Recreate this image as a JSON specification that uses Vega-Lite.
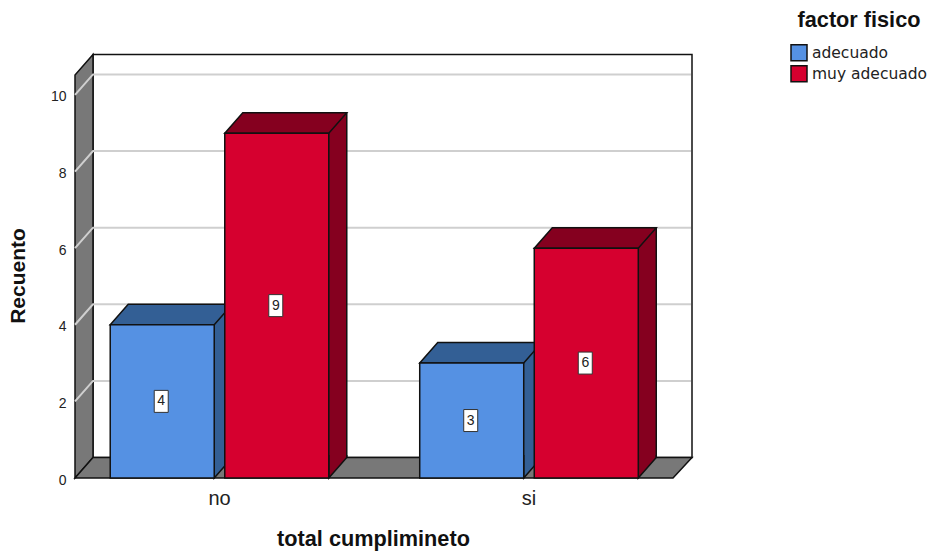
{
  "$schema": "https://vega.github.io/schema/vega-lite/v6.json",
  "width": 598,
  "height": 403,
  "autosize": {"type": "none"},
  "padding": {"left": 75, "top": 75, "right": 258, "bottom": 73},
  "background": "white",
  "config": {
    "view": {"stroke": null},
    "font": "Liberation Sans",
    "axis": {"grid": false, "domain": false, "ticks": false}
  },
  "resolve": {"scale": {"x": "independent", "y": "independent"}},
  "data": {
    "values": [
      {"total": "no", "factor": "adecuado", "recuento": 4},
      {"total": "no", "factor": "muy adecuado", "recuento": 9},
      {"total": "si", "factor": "adecuado", "recuento": 3},
      {"total": "si", "factor": "muy adecuado", "recuento": 6}
    ]
  },
  "transform": [{"calculate": "datum.recuento / 2", "as": "mitad"}],
  "layer": [
    {
      "description": "back wall",
      "data": {"values": [{"cara": "fondo"}]},
      "mark": {"type": "point", "filled": true, "opacity": 1, "size": 4, "fill": "white", "stroke": "#111", "strokeWidth": 1.5,
        "shape": "M-126.5,-20.5 L472.5,-20.5 L472.5,-423.5 L-126.5,-423.5 Z"},
      "encoding": {
        "x": {"datum": "no", "type": "nominal", "axis": null, "scale": {"domain": ["no", "si"], "range": [-10.25, 608.75], "paddingInner": 0, "paddingOuter": 0}},
        "y": {"datum": 0, "type": "quantitative", "axis": null, "scale": {"domain": [0, 10.52], "nice": false}}
      }
    },
    {
      "description": "left wall",
      "data": {"values": [{"cara": "izquierda"}]},
      "mark": {"type": "point", "filled": true, "opacity": 1, "size": 4, "fill": "#787878", "stroke": "#111", "strokeWidth": 1.5,
        "shape": "M-144.5,0 L-126.5,-20.5 L-126.5,-423.5 L-144.5,-403 Z"},
      "encoding": {
        "x": {"datum": "no", "type": "nominal", "axis": null, "scale": {"domain": ["no", "si"], "range": [-10.25, 608.75], "paddingInner": 0, "paddingOuter": 0}},
        "y": {"datum": 0, "type": "quantitative", "axis": null, "scale": {"domain": [0, 10.52], "nice": false}}
      }
    },
    {
      "description": "gridlines running over the left wall and along the back wall",
      "data": {"values": [{"marca": 2}, {"marca": 4}, {"marca": 6}, {"marca": 8}, {"marca": 10}]},
      "mark": {"type": "point", "filled": false, "opacity": 1, "size": 4, "stroke": "#cfcfcf", "strokeWidth": 2,
        "shape": "M-144.5,0 L-126.5,-20.5 L471.5,-20.5"},
      "encoding": {
        "x": {"datum": "no", "type": "nominal", "axis": null, "scale": {"domain": ["no", "si"], "range": [-10.25, 608.75], "paddingInner": 0, "paddingOuter": 0}},
        "y": {"field": "marca", "type": "quantitative", "axis": null, "scale": {"domain": [0, 10.52], "nice": false}}
      }
    },
    {
      "description": "floor",
      "data": {"values": [{"cara": "suelo"}]},
      "mark": {"type": "point", "filled": true, "opacity": 1, "size": 4, "fill": "#787878", "stroke": "#111", "strokeWidth": 1.5,
        "shape": "M-144.5,0 L-126.5,-20.5 L472.5,-20.5 L453.5,0 Z"},
      "encoding": {
        "x": {"datum": "no", "type": "nominal", "axis": null, "scale": {"domain": ["no", "si"], "range": [-10.25, 608.75], "paddingInner": 0, "paddingOuter": 0}},
        "y": {"datum": 0, "type": "quantitative", "axis": null, "scale": {"domain": [0, 10.52], "nice": false}}
      }
    },
    {
      "description": "side face of each bar, on an x range shifted by the depth",
      "mark": {"type": "bar", "yOffset": -20.5, "y2Offset": -20.5, "strokeWidth": 0},
      "encoding": {
        "x": {"field": "total", "type": "nominal", "axis": null, "scale": {"domain": ["no", "si"], "range": [7.75, 626.75], "paddingInner": 0, "paddingOuter": 0}},
        "xOffset": {"field": "factor", "type": "nominal", "scale": {"domain": ["adecuado", "muy adecuado"], "paddingInner": 0.092, "paddingOuter": 0.397}},
        "y": {"field": "recuento", "type": "quantitative", "axis": null, "scale": {"domain": [0, 10.52], "nice": false}},
        "y2": {"datum": 0},
        "fill": {"condition": {"test": "datum.factor === 'adecuado'", "value": "#335F95"}, "value": "#85001F"}
      }
    },
    {
      "description": "lower corner of the side face, overlapping the face above it",
      "mark": {"type": "point", "filled": true, "opacity": 1, "size": 4, "stroke": "#111", "strokeWidth": 1.5,
        "shape": "M52,-23 L52,0 L70,-20.5 L70,-23"},
      "encoding": {
        "x": {"field": "total", "type": "nominal", "axis": null, "scale": {"domain": ["no", "si"], "range": [-10.25, 608.75], "paddingInner": 0, "paddingOuter": 0}},
        "xOffset": {"field": "factor", "type": "nominal", "scale": {"domain": ["adecuado", "muy adecuado"], "paddingInner": 0.092, "paddingOuter": 0.397}},
        "y": {"datum": 0, "type": "quantitative", "axis": null, "scale": {"domain": [0, 10.52], "nice": false}},
        "fill": {"condition": {"test": "datum.factor === 'adecuado'", "value": "#335F95"}, "value": "#85001F"}
      }
    },
    {
      "description": "outer vertical edge of the side face",
      "mark": {"type": "rule", "yOffset": -20.5, "y2Offset": -20.5, "stroke": "#111", "strokeWidth": 1.5},
      "encoding": {
        "x": {"field": "total", "type": "nominal", "axis": null, "scale": {"domain": ["no", "si"], "range": [59.75, 678.75], "paddingInner": 0, "paddingOuter": 0}},
        "xOffset": {"field": "factor", "type": "nominal", "scale": {"domain": ["adecuado", "muy adecuado"], "paddingInner": 0.092, "paddingOuter": 0.397}},
        "y": {"field": "recuento", "type": "quantitative", "axis": null, "scale": {"domain": [0, 10.52], "nice": false}},
        "y2": {"datum": 0}
      }
    },
    {
      "description": "top face of each bar",
      "mark": {"type": "point", "filled": true, "opacity": 1, "size": 4, "stroke": "#111", "strokeWidth": 1.5,
        "shape": "M-52,0 L-34,-20.5 L70,-20.5 L52,0 Z"},
      "encoding": {
        "x": {"field": "total", "type": "nominal", "axis": null, "scale": {"domain": ["no", "si"], "range": [-10.25, 608.75], "paddingInner": 0, "paddingOuter": 0}},
        "xOffset": {"field": "factor", "type": "nominal", "scale": {"domain": ["adecuado", "muy adecuado"], "paddingInner": 0.092, "paddingOuter": 0.397}},
        "y": {"field": "recuento", "type": "quantitative", "axis": null, "scale": {"domain": [0, 10.52], "nice": false}},
        "fill": {"condition": {"test": "datum.factor === 'adecuado'", "value": "#335F95"}, "value": "#85001F"}
      }
    },
    {
      "description": "front face of each bar, carrying the axes and legend",
      "mark": {"type": "bar", "stroke": "#111", "strokeWidth": 1.5},
      "encoding": {
        "x": {
          "field": "total", "type": "nominal",
          "scale": {"domain": ["no", "si"], "range": [-10.25, 608.75], "paddingInner": 0, "paddingOuter": 0},
          "axis": {"title": "total cumplimineto", "labelAngle": 0, "labelFontSize": 20, "labelColor": "#222", "labelPadding": 10,
            "titleFontSize": 21.7, "titleFontWeight": "bold", "titleColor": "#111", "titlePadding": 20, "titleX": 298}
        },
        "xOffset": {
          "field": "factor", "type": "nominal",
          "scale": {"domain": ["adecuado", "muy adecuado"], "paddingInner": 0.092, "paddingOuter": 0.397}
        },
        "y": {
          "field": "recuento", "type": "quantitative",
          "scale": {"domain": [0, 10.52], "nice": false},
          "axis": {"title": "Recuento", "values": [0, 2, 4, 6, 8, 10], "labelFontSize": 14, "labelColor": "#222", "labelPadding": 9, "labelOffset": 2,
            "titleFontSize": 21, "titleFontWeight": "bold", "titleColor": "#111", "titlePadding": 22, "titleY": 200.5}
        },
        "y2": {"datum": 0},
        "fill": {
          "field": "factor", "type": "nominal",
          "scale": {"domain": ["adecuado", "muy adecuado"], "range": ["#5591E3", "#D6002F"]},
          "legend": {
            "title": "factor fisico", "orient": "none", "legendX": 715, "legendY": -65,
            "titleFont": "Liberation Sans", "titleFontSize": 21.7, "titleFontWeight": "bold", "titleColor": "#111", "titleAnchor": "middle", "titlePadding": 12,
            "symbolType": "square", "symbolSize": 256, "symbolStrokeColor": "#111", "symbolStrokeWidth": 1.5,
            "labelFont": "DejaVu Sans", "labelFontSize": 15.5, "labelColor": "#222", "labelOffset": 4, "rowPadding": -1
          }
        }
      }
    },
    {
      "description": "white box behind each count",
      "mark": {"type": "point", "filled": true, "opacity": 1, "size": 4, "fill": "white", "stroke": "#333", "strokeWidth": 1,
        "shape": "M-8,-11 L6,-11 L6,11 L-8,11 Z"},
      "encoding": {
        "x": {"field": "total", "type": "nominal", "axis": null, "scale": {"domain": ["no", "si"], "range": [-10.25, 608.75], "paddingInner": 0, "paddingOuter": 0}},
        "xOffset": {"field": "factor", "type": "nominal", "scale": {"domain": ["adecuado", "muy adecuado"], "paddingInner": 0.092, "paddingOuter": 0.397}},
        "y": {"field": "mitad", "type": "quantitative", "axis": null, "scale": {"domain": [0, 10.52], "nice": false}}
      }
    },
    {
      "description": "count printed in each box",
      "mark": {"type": "text", "fontSize": 14, "color": "#222", "align": "center", "baseline": "middle", "dx": -1},
      "encoding": {
        "x": {"field": "total", "type": "nominal", "axis": null, "scale": {"domain": ["no", "si"], "range": [-10.25, 608.75], "paddingInner": 0, "paddingOuter": 0}},
        "xOffset": {"field": "factor", "type": "nominal", "scale": {"domain": ["adecuado", "muy adecuado"], "paddingInner": 0.092, "paddingOuter": 0.397}},
        "y": {"field": "mitad", "type": "quantitative", "axis": null, "scale": {"domain": [0, 10.52], "nice": false}},
        "text": {"field": "recuento", "type": "quantitative"}
      }
    }
  ]
}
